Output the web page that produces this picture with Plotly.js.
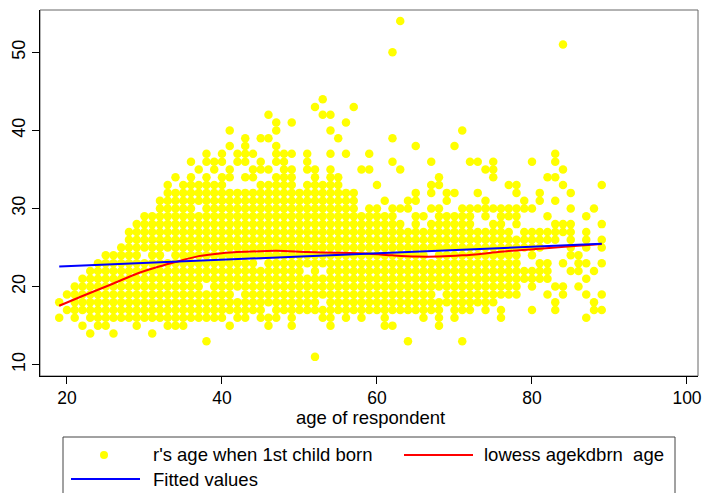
<!DOCTYPE html>
<html>
<head>
<meta charset="utf-8">
<script src="https://cdn.plot.ly/plotly-3.0.1.min.js"></script>
<style>html,body{margin:0;padding:0;background:#fff;}#chart{width:704px;height:493px;}</style>
</head>
<body>
<div id="chart"></div>
<script>
// age of respondent (x) and the r's-age-when-1st-child-born values seen at each age (y)
const ages = [19,20,21,22,23,24,25,26,27,28,29,30,31,32,33,34,35,36,37,38,39,40,41,42,43,44,45,46,47,48,49,50,51,52,53,54,55,56,57,58,59,60,61,62,63,64,65,66,67,68,69,70,71,72,73,74,75,76,77,78,79,80,81,82,83,84,85,86,87,88,89];
const agekdbrnAtAge = [
  [16,18],
  [17,19],
  [16,17,18,19,20],
  [15,17,18,19,20,21],
  [14,16,17,18,19,20,21,22],
  [15,16,17,18,19,20,21,22,23],
  [15,16,17,18,19,20,21,22,23,24],
  [14,16,17,18,19,20,21,22,23,24],
  [16,17,18,19,20,21,22,23,24,25],
  [16,17,18,19,20,21,22,23,24,25,26,27],
  [15,16,17,18,19,20,21,22,23,24,25,26,27,28],
  [16,17,18,19,20,21,22,23,25,26,27,28,29],
  [14,16,17,18,19,20,21,22,23,24,25,26,27,28,29],
  [16,17,18,19,20,21,22,23,24,25,26,27,28,29,30,31],
  [15,16,17,18,19,20,21,22,23,25,26,27,28,29,30,31,32,33],
  [15,16,17,18,19,20,21,22,23,24,25,26,27,28,29,30,31,32,34],
  [15,16,17,18,19,20,21,22,23,24,25,26,27,28,29,30,31,32,33],
  [16,17,18,19,20,21,22,23,24,25,26,27,28,29,30,31,32,33,34,36],
  [16,17,18,19,20,21,22,23,24,25,26,27,28,29,31,32,33,35],
  [13,16,17,18,19,21,22,23,24,25,26,27,28,29,30,31,32,33,34,36,37],
  [16,17,18,19,20,21,22,23,24,25,26,27,28,29,30,31,32,33,35,36],
  [16,17,18,19,20,21,22,23,24,25,26,27,28,29,30,31,32,33,34,36,37],
  [15,17,18,19,20,21,22,23,24,25,26,27,28,29,30,31,32,34,35,38,40],
  [16,17,18,20,21,22,23,24,25,26,27,28,29,30,31,32,36,37],
  [16,17,18,19,20,21,22,23,24,25,26,27,28,29,30,31,32,34,36,37,38,39],
  [17,18,19,20,21,22,23,24,25,26,27,28,29,30,31,32,34,35,37],
  [16,17,18,19,20,21,22,24,25,26,27,28,29,30,31,32,33,35,36,39],
  [15,16,18,19,20,21,22,23,24,25,26,27,28,29,30,31,32,33,35,39,42],
  [16,17,18,19,20,21,22,23,24,25,26,27,28,29,30,31,32,33,34,36,37,38,40,41],
  [17,18,19,20,21,22,23,24,25,26,27,28,29,30,31,32,33,34,35,36,37],
  [15,16,17,18,19,20,21,22,23,24,25,26,27,28,29,30,31,32,33,34,35,37,41],
  [17,18,19,20,21,22,23,24,25,26,27,28,29,30,31,32],
  [17,18,19,20,21,23,24,25,26,27,28,29,30,31,32,33,35,36,37],
  [11,17,18,19,20,21,22,23,24,25,26,27,28,29,30,31,32,33,34,35,43],
  [16,17,19,20,21,23,24,25,26,27,28,29,30,31,32,33,42,44],
  [15,16,17,18,19,20,21,22,23,24,25,26,27,28,29,30,31,32,33,34,35,37,40,42],
  [17,18,19,20,21,22,23,24,25,26,27,28,29,30,31,32,33,34,39],
  [16,17,18,19,20,21,22,23,24,25,26,27,28,29,30,31,32,37,41],
  [17,18,19,20,21,22,23,24,25,26,27,28,29,30,31,32,43],
  [16,17,18,19,20,21,22,23,24,25,26,27,28,29,35],
  [17,18,19,20,21,22,23,24,25,26,27,28,29,30,35,37],
  [17,18,19,20,21,22,23,24,25,26,27,28,29,30,33],
  [15,16,17,18,19,20,21,22,23,24,25,26,27,28,29,31],
  [15,17,18,19,20,21,22,23,24,25,26,27,28,29,30,36,39,50],
  [17,18,19,20,21,22,23,24,25,26,27,28,30,35,54],
  [13,17,18,19,20,21,22,23,24,25,26,27,30,31],
  [17,18,19,20,21,22,23,24,25,26,27,28,29,31,32,38],
  [16,17,18,19,20,21,22,23,24,25,26,27,29],
  [17,18,19,20,21,22,23,25,26,27,28,30,32,33,36],
  [15,16,17,18,20,21,22,23,24,25,26,27,28,29,30,33,34],
  [18,19,20,21,22,23,24,25,26,27,28,29,31,32],
  [16,17,18,19,20,21,22,23,24,25,26,27,28,29,32,38],
  [13,17,18,19,20,21,22,23,24,25,26,27,28,29,30,40],
  [17,18,19,20,21,22,23,24,25,26,27,28,29,30,36],
  [18,19,20,21,22,23,24,25,26,27,30,32,36],
  [17,18,19,20,21,22,23,24,25,26,27,29,30,31,35],
  [18,19,20,21,22,23,24,25,26,27,28,30,34,35,36],
  [16,17,19,20,21,22,23,24,25,26,27,28,29,30],
  [19,20,21,22,23,24,25,26,27,29,30,33],
  [19,20,21,22,23,24,25,26,28,29,30,32,33],
  [21,22,25,26,27,30,31],
  [17,20,21,22,24,25,26,27,30,36],
  [21,22,23,25,26,27,31,32],
  [19,21,22,23,26,27,29,34],
  [17,18,20,26,27,28,31,34,36,37],
  [19,20,23,27,28,33,35,51],
  [22,24,25,26,27,28,30,32],
  [20,22,23,24],
  [16,19,21,23,25,26,27,29],
  [17,18,22,30],
  [17,19,23,25,26,28,33]
];

// lowess smooth of agekdbrn on age
const lowessAge = [19,22,26,29,32,34,37,40,43,47,51,55,59,62,65,68,71,74,77,81,85,89];
const lowessVal = [17.55,18.8,20.4,21.65,22.6,23.15,23.9,24.28,24.45,24.58,24.42,24.33,24.2,24.0,23.85,23.85,24.0,24.25,24.55,24.85,25.15,25.45];

// linear fitted values
const fitAge = [19,89];
const fitVal = [22.56,25.47];

const xTicks = [20,40,60,80,100];
const yTicks = [10,20,30,40,50];

const xTitle = 'age of respondent';
const seriesNames = ["r's age when 1st child born", "lowess agekdbrn\u00a0 age", "Fitted values"];
const seriesColors = ['#ffff00', '#ff0000', '#0000ff'];

const px = [], py = [];
ages.forEach((a,i)=>{ agekdbrnAtAge[i].forEach(v=>{ px.push(a); py.push(v); }); });

const FONT = '"Liberation Sans", Arial, Helvetica, sans-serif';

const traces = [
  {type:'scatter', mode:'markers', x:px, y:py, name:seriesNames[0],
   marker:{color:seriesColors[0], size:8.5, line:{width:0}}},
  {type:'scatter', mode:'lines', x:lowessAge, y:lowessVal, name:seriesNames[1],
   line:{color:seriesColors[1], width:2, shape:'spline', smoothing:0.8}},
  {type:'scatter', mode:'lines', x:fitAge, y:fitVal, name:seriesNames[2],
   line:{color:seriesColors[2], width:2}}
];

// plot area in pixels: x 40..698, y 10..376
const L = 40, T = 10, W = 658, H = 366;
const pxX = p => (p - L) / W;
const pxY = p => (T + H - p) / H;

// legend key (drawn as Stata-style box below the plot)
const row1 = 455, row2 = 479;
const shapes = [
  {type:'rect', xref:'paper', yref:'paper', x0:0, y0:0, x1:1, y1:1, line:{color:'#666', width:1}, layer:'below'},
  {type:'rect', xref:'paper', yref:'paper', x0:pxX(63), x1:pxX(675), y0:pxY(437), y1:pxY(500), line:{color:'#444', width:1}},
  {type:'circle', xref:'paper', yref:'paper', x0:pxX(100), x1:pxX(108), y0:pxY(row1-4), y1:pxY(row1+4), fillcolor:seriesColors[0], line:{width:0}},
  {type:'line', xref:'paper', yref:'paper', x0:pxX(404), x1:pxX(473), y0:pxY(row1), y1:pxY(row1), line:{color:seriesColors[1], width:2}},
  {type:'line', xref:'paper', yref:'paper', x0:pxX(71), x1:pxX(140), y0:pxY(row2), y1:pxY(row2), line:{color:seriesColors[2], width:2}}
];
const annFont = {size:18.5, family:FONT, color:'#000'};
const annotations = [
  {xref:'paper', yref:'paper', x:pxX(370), y:pxY(418), xanchor:'center', yanchor:'middle', text:xTitle, showarrow:false, font:annFont},
  {xref:'paper', yref:'paper', x:pxX(151), y:pxY(row1), xanchor:'left', yanchor:'middle', text:seriesNames[0], showarrow:false, font:annFont},
  {xref:'paper', yref:'paper', x:pxX(482), y:pxY(row1), xanchor:'left', yanchor:'middle', text:seriesNames[1], showarrow:false, font:annFont},
  {xref:'paper', yref:'paper', x:pxX(151), y:pxY(row2), xanchor:'left', yanchor:'middle', text:seriesNames[2], showarrow:false, font:annFont}
];

const layout = {
  width:704, height:493,
  margin:{l:40, r:6, t:10, b:117, autoexpand:false},
  paper_bgcolor:'#ffffff', plot_bgcolor:'#ffffff',
  font:{family:FONT, color:'#000', size:16},
  showlegend:false,
  xaxis:{range:[16.52,101.42], tickvals:xTicks, ticktext:xTicks.map(String),
    ticks:'outside', ticklen:7, tickcolor:'#000', tickwidth:1,
    showline:true, linecolor:'#000', linewidth:1, showgrid:false, zeroline:false,
    tickfont:{size:17.5, family:FONT, color:'#000'}, ticklabelstandoff:-1},
  yaxis:{range:[8.55,55.42], tickvals:yTicks, ticktext:yTicks.map(String),
    ticks:'outside', ticklen:7, tickcolor:'#000', tickwidth:1, tickangle:-90,
    showline:true, linecolor:'#000', linewidth:1, showgrid:false, zeroline:false,
    tickfont:{size:18, family:FONT, color:'#000'}},
  shapes:shapes,
  annotations:annotations
};

Plotly.newPlot('chart', traces, layout, {displayModeBar:false, staticPlot:true});
</script>
</body>
</html>
